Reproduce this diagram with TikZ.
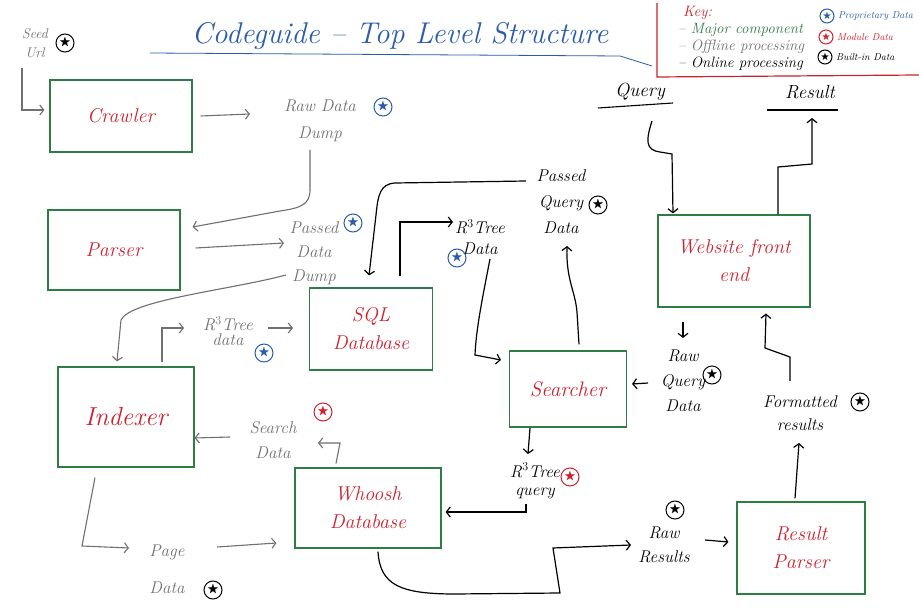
\documentclass[tikz,border=0pt]{standalone}
\usepackage{fontspec}
\usepackage{amssymb}
\usetikzlibrary{arrows.meta}

\definecolor{boxgreen}{HTML}{2E7D45}
\definecolor{inkred}{HTML}{D0202E}
\definecolor{inkblue}{HTML}{2B5CAB}
\definecolor{inkgray}{HTML}{707070}
\definecolor{keyred}{HTML}{C8232C}

\tikzset{
  comp/.style={draw=boxgreen, line width=1.1pt, text=inkred, align=center,
    inner sep=0pt, font=\fontsize{20}{28}\selectfont\itshape},
  dlabel/.style={align=center, inner sep=1pt, font=\fontsize{17}{#1}\selectfont\itshape},
  dlabel/.default=22,
  keytext/.style={anchor=west, inner sep=0pt, font=\fontsize{15}{16}\selectfont\itshape},
  keysmall/.style={anchor=west, inner sep=0pt, font=\fontsize{10}{12}\selectfont\itshape},
  dstar/.style={circle, draw=#1, text=#1, line width=1pt, inner sep=0pt,
    minimum size=18pt, font=\fontsize{12}{12}\selectfont},
  kstar/.style={dstar=#1, minimum size=14pt, font=\fontsize{9}{9}\selectfont},
  tip/.style={-{Straight Barb[length=4pt,width=10pt]}},
  offline/.style={draw=inkgray, line width=1.1pt, tip},
  online/.style={draw=black, line width=1.2pt, tip},
}

\begin{document}
\begin{tikzpicture}[x=1pt,y=-1pt]
\useasboundingbox[fill=white] (0,0) rectangle (919,612);

% title
\node[text=inkblue, inner sep=0pt, font=\fontsize{30}{34}\selectfont\itshape] (title) at (400,36)
  {Codeguide -- Top Level Structure};
\draw[inkblue, line width=0.8pt] (150,53) -- (620,56) -- (652,66);

% key
\draw[keyred, line width=1.2pt] (657,3) -- (657,77) -- (919,75);
\node[keytext, text=keyred] (keyhead) at (683,13) {Key:};
\node[keytext, text=boxgreen] (keymajor) at (678,30) {-- Major component};
\node[keytext, text=inkgray] (keyoff) at (678,47) {-- Offline processing};
\node[keytext, text=black] (keyon) at (678,64) {-- Online processing};
\node[kstar=inkblue] (kp) at (827,16) {$\bigstar$};
\node[keysmall, text=inkblue] (kptext) at (838,16) {Proprietary Data};
\node[kstar=inkred] (km) at (826,37) {$\bigstar$};
\node[keysmall, text=inkred] (kmtext) at (837,37) {Module Data};
\node[kstar=black] (kb) at (825,57) {$\bigstar$};
\node[keysmall, text=black] (kbtext) at (836,57) {Built-in Data};

% major components
\node[comp, minimum width=142pt, minimum height=72pt] (crawler) at (121,116) {Crawler};
\node[comp, minimum width=132pt, minimum height=80pt] (parser) at (114,250) {Parser};
\node[comp, minimum width=123pt, minimum height=82pt] (sql) at (371,329) {SQL\\Database};
\node[comp, minimum width=136pt, minimum height=100pt, font=\fontsize{26}{28}\selectfont\itshape] (indexer) at (126,417) {Indexer};
\node[comp, minimum width=117pt, minimum height=76pt, font=\fontsize{21}{28}\selectfont\itshape] (searcher) at (568,389) {Searcher};
\node[comp, minimum width=152pt, minimum height=92pt] (web) at (734,261) {Website front\\end};
\node[comp, minimum width=146pt, minimum height=80pt] (whoosh) at (368,508) {Whoosh\\Database};
\node[comp, minimum width=128pt, minimum height=92pt] (rparser) at (801,548) {Result\\Parser};

% data labels
\node[dlabel=19, text=inkgray, font=\fontsize{14}{19}\selectfont\itshape] (seed) at (35,43) {Seed\\Url};
\node[dlabel=27, text=inkgray] (rawdump) at (320,121) {Raw Data\\Dump};
\node[dlabel=24, text=inkgray] (pdump) at (314,253) {Passed\\Data\\Dump};
\node[dlabel=15, text=inkgray] (r3a) at (228,331) {R$^3$Tree\\data};
\node[dlabel=21, text=black] (r3b) at (480,237) {R$^3$Tree\\Data};
\node[dlabel=26, text=black] (pq) at (561,202) {Passed\\Query\\Data};
\node[dlabel=25, text=inkgray] (sd) at (273,440) {Search\\Data};
\node[dlabel=37, text=inkgray] (pd) at (167,569) {Page\\Data};
\node[dlabel=25, text=black] (rqd) at (683,381) {Raw\\Query\\Data};
\node[dlabel=18, text=black] (r3q) at (535,481) {R$^3$Tree\\query};
\node[dlabel=24, text=black] (rawres) at (664,545) {Raw\\Results};
\node[dlabel=23, text=black] (fr) at (800,413) {Formatted\\results};

% query / result endpoints
\node[inner sep=1pt, font=\fontsize{19}{20}\selectfont\itshape] (query) at (640,92) {Query};
\draw[line width=1.1pt] ([shift={(-42,16)}]query.center) -- ([shift={(33,11)}]query.center);
\node[inner sep=1pt, font=\fontsize{19}{20}\selectfont\itshape] (result) at (810,92) {Result};
\draw[line width=1.1pt] ([shift={(-43,18)}]result.center) -- ([shift={(28,18)}]result.center);

% data markers
\node[dstar=black] (sseed) at (65,43) {$\bigstar$};
\node[dstar=inkblue] (sraw) at (383,107) {$\bigstar$};
\node[dstar=inkblue] (spdump) at (353,223) {$\bigstar$};
\node[dstar=inkblue] (sr3a) at (264,353) {$\bigstar$};
\node[dstar=inkblue] (sr3b) at (457,258) {$\bigstar$};
\node[dstar=black] (spq) at (598,205) {$\bigstar$};
\node[dstar=inkred] (ssd) at (323,412) {$\bigstar$};
\node[dstar=black] (spd) at (213,590) {$\bigstar$};
\node[dstar=black] (srqd) at (712,375) {$\bigstar$};
\node[dstar=inkred] (sr3q) at (570,477) {$\bigstar$};
\node[dstar=black] (srawres) at (675,510) {$\bigstar$};
\node[dstar=black] (sfr) at (860,402) {$\bigstar$};

% offline processing
\draw[offline] ([shift={(-13,25)}]seed.center) |- ([shift={(-5,-6)}]crawler.west);
\draw[offline] ([shift={(8,0)}]crawler.east) -- ([shift={(-70,-7)}]rawdump.center);
\draw[offline] ([shift={(-10,29)}]rawdump.center) -- (310,190)
  .. controls (310,205) and (300,208) .. (280,211) -- ([shift={(12,-23)}]parser.east);
\draw[offline] ([shift={(15,-2)}]parser.east) -- ([shift={(-30,-10)}]pdump.center);
\draw[offline] ([shift={(-28,22)}]pdump.center) .. controls (230,290) and (130,300) .. (121,320)
  -- ([shift={(-9,-5)}]indexer.north);
\draw[offline] ([shift={(36,-4)}]indexer.north) |- ([shift={(-44,-3)}]r3a.center);
\draw[offline] ([shift={(40,-3)}]r3a.center) -- ([shift={(-16,-1)}]sql.west);
\draw[offline] ([shift={(-32,-4)}]whoosh.north) -- (340,443) -- ([shift={(45,3)}]sd.center);
\draw[offline] ([shift={(-43,-3)}]sd.center) -- ([shift={(0,21)}]indexer.east);
\draw[offline] ([shift={(-31,10)}]indexer.south) -- (82,546) -- ([shift={(-38,-21)}]pd.center);
\draw[offline] ([shift={(50,-22)}]pd.center) -- ([shift={(-18,35)}]whoosh.west);

% online processing
\draw[online] ([shift={(-35,-21)}]pq.center) -- (395,183)
  .. controls (380,184) and (378,195) .. (376,215) -- ([shift={(-2,-12)}]sql.north);
\draw[online] ([shift={(29,-11)}]sql.north) -- (400,222) -- ([shift={(-27,-15)}]r3b.center);
\draw[online] ([shift={(10,22)}]r3b.center) .. controls (482,300) and (476,330) .. (475,355)
  -- ([shift={(-8,-29)}]searcher.west);
\draw[online] ([shift={(11,-6)}]searcher.north) -- (577,312)
  .. controls (575,290) and (566,280) .. ([shift={(6,44)}]pq.center);
\draw[online] ([shift={(12,29)}]query.center) .. controls (646,140) and (645,150) .. (660,152)
  -- (672,154) -- ([shift={(-61,-1)}]web.north);
\draw[online] ([shift={(44,0)}]web.north) -- (778,167) -- (812,164) -- ([shift={(2,26)}]result.center);
\draw[online] ([shift={(-51,14)}]web.south) -- ([shift={(0,-43)}]rqd.center);
\draw[online] ([shift={(-35,2)}]rqd.center) -- ([shift={(5,-5)}]searcher.east);
\draw[online] ([shift={(-38,39)}]searcher.center) -- ([shift={(-7,-27)}]r3q.center);
\draw[online] ([shift={(-9,23)}]r3q.center) |- ([shift={(4,4)}]whoosh.east);
\draw[online] ([shift={(10,3)}]whoosh.south) .. controls (380,585) and (400,594) .. (455,594)
  -- (560,593) -- (553,548) -- ([shift={(-33,0)}]rawres.center);
\draw[online] ([shift={(41,-5)}]rawres.center) -- ([shift={(-8,-6)}]rparser.west);
\draw[online] ([shift={(-6,-3)}]rparser.north) -- ([shift={(-1,30)}]fr.center);
\draw[online] ([shift={(-10,-32)}]fr.center) -- (790,357) -- (765,348) -- ([shift={(32,6)}]web.south);
\end{tikzpicture}
\end{document}
